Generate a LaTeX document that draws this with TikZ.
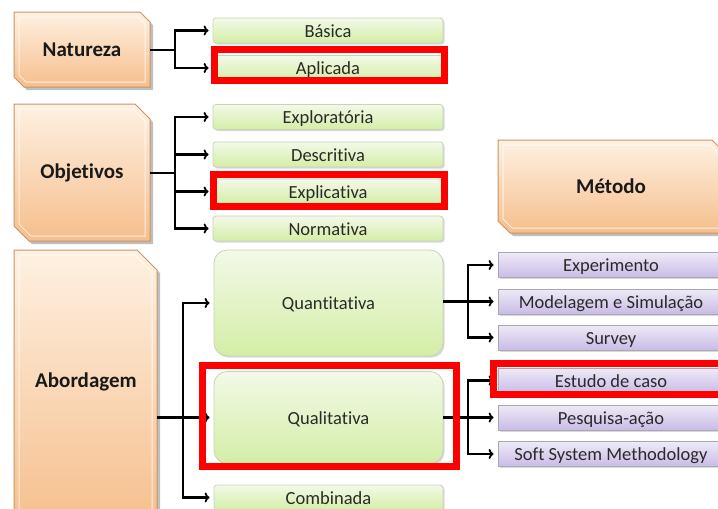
\documentclass[tikz,border=0pt]{standalone}
\usepackage{fontspec}
\setmainfont{Carlito}[Ligatures=NoCommon]
\usetikzlibrary{shadows,arrows.meta}
\definecolor{otop}{HTML}{FEF1E2}
\definecolor{obot}{HTML}{F6BE8C}
\definecolor{oedge}{HTML}{C99466}
\definecolor{gtop}{HTML}{F3F9E8}
\definecolor{gbot}{HTML}{D3EEA6}
\definecolor{gedge}{HTML}{C8D4B8}
\definecolor{ptop}{HTML}{EEEAF7}
\definecolor{pbot}{HTML}{C9BBE6}
\definecolor{pedge}{HTML}{A8A8B0}
\definecolor{txt}{HTML}{2A2A2A}
\newcommand\myorangebox[7]{%
  \fill[black,opacity=0.25] (#2+3,#3+3) -- (#4-#6+3,#3+3) -- (#4+3,#3+#6+3) -- (#4+3,#5+3) -- (#2+#6+3,#5+3) -- (#2+3,#5-#6+3) -- cycle;
  \shade[top color=otop,bottom color=obot,draw=oedge,line width=1pt]
    (#2,#3) -- (#4-#6,#3) -- (#4,#3+#6) -- (#4,#5) -- (#2+#6,#5) -- (#2,#5-#6) -- cycle;
  \draw[white,opacity=0.7,line width=1pt]
    (#2+5,#3+5) -- (#4-#6-2,#3+5) -- (#4-5,#3+#6+2) -- (#4-5,#5-5) -- (#2+#6+2,#5-5) -- (#2+5,#5-#6-2) -- cycle;
  \node[inner sep=0,minimum width=#4-#2,minimum height=#5-#3] (#1) at ({(#2+#4)/2},{(#3+#5)/2}) {};
  \node[font=\bfseries\fontsize{21}{24}\selectfont,text=black!90] at (#1) {#7};
}
\begin{document}
\begin{tikzpicture}[x=1pt,y=-1pt,
  conn/.style={line width=2.4pt,black},
  arr/.style={conn,-{To[length=5pt,width=10pt,line width=1.8pt]},shorten >=4pt},
  gbox/.style={rectangle,rounded corners=3pt,draw=gedge,line width=0.8pt,top color=gtop,bottom color=gbot,
     minimum width=230pt,minimum height=25pt,inner sep=0pt,text=txt,font=\fontsize{18.5}{21}\selectfont,
     text height=14pt,text depth=1pt,
     drop shadow={shadow xshift=1.5pt,shadow yshift=-1.5pt,opacity=0.3}},
  bigbox/.style={gbox,rounded corners=13pt},
  pbox/.style={rectangle,draw=pedge,line width=0.8pt,top color=ptop,bottom color=pbot,
     minimum width=226pt,minimum height=25pt,inner sep=0pt,text=txt,font=\fontsize{18.5}{21}\selectfont,
     text height=14pt,text depth=1pt,
     drop shadow={shadow xshift=1.5pt,shadow yshift=-1.5pt,opacity=0.3}},
  redhl/.style={draw=red,line width=7pt}
]
\useasboundingbox (0,0) rectangle (718,509);
\fill[white] (0,0) rectangle (718,509);

% orange boxes
\myorangebox{nat}{14}{12}{150}{87}{10}{Natureza}
\myorangebox{obj}{14}{104}{150}{241}{15}{Objetivos}
\myorangebox{met}{498}{140}{724}{233}{12}{Método}
% Abordagem (extends beyond bottom edge)
\fill[black,opacity=0.25] (17,253) -- (140,253) -- (160,273) -- (160,530) -- (17,530) -- cycle;
\shade[top color=otop,bottom color=obot,draw=oedge,line width=1pt]
  (14,250) -- (137,250) -- (157,270) -- (157,530) -- (14,530) -- cycle;
\draw[white,opacity=0.7,line width=1pt] (19,255) -- (135,255) -- (152,272) -- (152,530) (19,530) -- (19,255);
\node[inner sep=0,minimum width=143pt,minimum height=259pt] (abo) at (85.5,379.5) {};
\node[font=\bfseries\fontsize{21}{24}\selectfont,text=black!90] at (86,382) {Abordagem};

% green boxes
\node[gbox] (bas) at (328,30.5) {Básica};
\node[gbox] (apl) at (328,68) {Aplicada};
\node[gbox] (exp) at (328,117) {Exploratória};
\node[gbox] (des) at (328,154.5) {Descritiva};
\node[gbox] (epl) at (328,191.5) {Explicativa};
\node[gbox] (nor) at (328,228.5) {Normativa};
\node[bigbox,minimum width=229pt,minimum height=106pt] (qua) at (328.5,303) {Quantitativa};
\node[bigbox,minimum width=229pt,minimum height=92pt] (qal) at (328.5,417.5) {Qualitativa};
\node[gbox,minimum width=229pt] (com) at (328.5,497.5) {Combinada};

% purple boxes
\node[pbox] (ex) at (611,265) {Experimento};
\node[pbox] (mod) at (611,301.5) {Modelagem e Simulação};
\node[pbox] (sur) at (611,337.5) {Survey};
\node[pbox] (est) at (611,380.5) {Estudo de caso};
\node[pbox] (pes) at (611,417.5) {Pesquisa-ação};
\node[pbox] (ssm) at (611,454) {Soft System Methodology};

% connectors
\coordinate (natj) at (175,50);
\draw[conn] (nat.east |- natj) -- (natj);
\draw[arr] (natj) |- (bas.west);
\draw[arr] (natj) |- (apl.west);

\coordinate (objj) at (175,173);
\draw[conn] (obj.east |- objj) -- (objj);
\draw[arr] (objj) |- (exp.west);
\draw[arr] (objj) |- (des.west);
\draw[arr] (objj) |- (epl.west);
\draw[arr] (objj) |- (nor.west);

\coordinate (aboj) at (183,417.5);
\draw[arr] (abo.east |- qal.west) -- (qal.west);
\draw[arr] (aboj) |- (qua.west);
\draw[arr] (aboj) |- (com.west);

\coordinate (quaj) at (468,301.5);
\draw[conn] (qua.east |- quaj) -- (quaj);
\draw[arr] (quaj) |- (ex.west);
\draw[arr] (quaj) -- (mod.west);
\draw[arr] (quaj) |- (sur.west);

\coordinate (qalj) at (468,417.5);
\draw[conn] (qal.east) -- (qalj);
\draw[arr] (qalj) |- (est.west);
\draw[arr] (qalj) -- (pes.west);
\draw[arr] (qalj) |- (ssm.west);

% red highlights
\draw[redhl] (214.5,49.5) rectangle (444.5,80.5);
\draw[redhl] (213.5,174.5) rectangle (444.5,206.5);
\draw[redhl] (202.5,365.5) rectangle (456.5,466.5);
\draw[redhl] (493.5,363.5) rectangle (725,394.5);
\end{tikzpicture}
\end{document}
